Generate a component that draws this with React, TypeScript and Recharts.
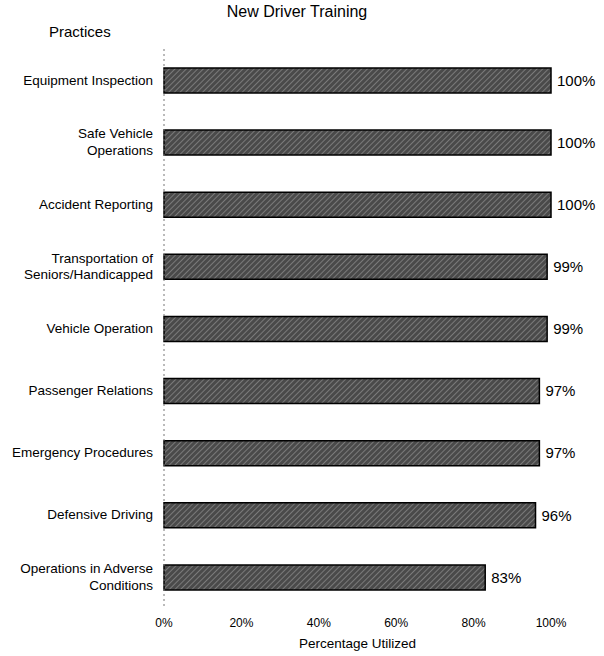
import { BarChart, Bar, XAxis, YAxis, LabelList } from "recharts";

const practices = [
  "Equipment Inspection",
  "Safe Vehicle Operations",
  "Accident Reporting",
  "Transportation of Seniors/Handicapped",
  "Vehicle Operation",
  "Passenger Relations",
  "Emergency Procedures",
  "Defensive Driving",
  "Operations in Adverse Conditions",
];

const utilized = [100, 100, 100, 99, 99, 97, 97, 96, 83];

const xTicks = [0, 20, 40, 60, 80, 100];

const data = practices.map((name, i) => ({ name, value: utilized[i] }));

const FONT = "'Liberation Sans', Arial, sans-serif";

// greedy wrap, roughly what the original did
function wrap(text: string, max = 21) {
  const words = text.split(" ");
  const lines: string[] = [];
  let cur = "";
  for (const w of words) {
    const next = cur ? cur + " " + w : w;
    if (next.length > max && cur) {
      lines.push(cur);
      cur = w;
    } else {
      cur = next;
    }
  }
  if (cur) lines.push(cur);
  return lines;
}

function PracticeTick(props: any) {
  const { x, y, payload } = props;
  const lines = wrap(String(payload.value));
  const lh = 16.5;
  const start = -((lines.length - 1) * lh) / 2 + 4.5;
  return (
    <text x={x - 3} y={y} textAnchor="end" fontSize={13.5} fontFamily={FONT} fill="#000">
      {lines.map((l, i) => (
        <tspan key={i} x={x - 3} dy={i === 0 ? start : lh}>
          {l}
        </tspan>
      ))}
    </text>
  );
}

export default function App() {
  return (
    <div style={{ position: "absolute", left: 0, top: 0, width: 604, height: 656, background: "#fff" }}>
      <div
        style={{
          position: "absolute",
          left: 0,
          width: 594,
          top: 3,
          textAlign: "center",
          fontFamily: FONT,
          fontSize: 16,
        }}
      >
        New Driver Training
      </div>
      <div style={{ position: "absolute", left: 49, top: 23, fontFamily: FONT, fontSize: 15 }}>Practices</div>
      <BarChart
        width={604}
        height={656}
        data={data}
        layout="vertical"
        margin={{ top: 49, right: 53, left: 0, bottom: 4 }}
        barCategoryGap={0}
      >
        <defs>
          <pattern id="hatch" width="4" height="4" patternUnits="userSpaceOnUse" patternTransform="rotate(45)">
            <rect width="4" height="4" fill="#4a4a4a" />
            <line x1="0" y1="0" x2="0" y2="4" stroke="#9a9a9a" strokeWidth="1.2" />
          </pattern>
        </defs>
        <XAxis
          type="number"
          domain={[0, 100]}
          ticks={xTicks}
          tickFormatter={(v) => `${v}%`}
          axisLine={false}
          tickLine={false}
          tickMargin={4}
          height={44}
          tick={{ fontSize: 12, fontFamily: FONT, fill: "#000" }}
          label={{
            value: "Percentage Utilized",
            position: "insideBottom",
            offset: 4,
            style: { fontSize: 13.5, fontFamily: FONT, fill: "#000" },
          }}
        />
        <YAxis
          type="category"
          dataKey="name"
          width={164}
          tickLine={false}
          axisLine={{ stroke: "#777", strokeDasharray: "2 3" }}
          tick={<PracticeTick />}
          interval={0}
        />
        <Bar dataKey="value" fill="url(#hatch)" stroke="#000" strokeWidth={1.5} barSize={25} isAnimationActive={false}>
          <LabelList
            dataKey="value"
            position="right"
            offset={6}
            formatter={(v: any) => `${v}%`}
            style={{ fontSize: 15, fontFamily: FONT, fill: "#000" }}
          />
        </Bar>
      </BarChart>
    </div>
  );
}
